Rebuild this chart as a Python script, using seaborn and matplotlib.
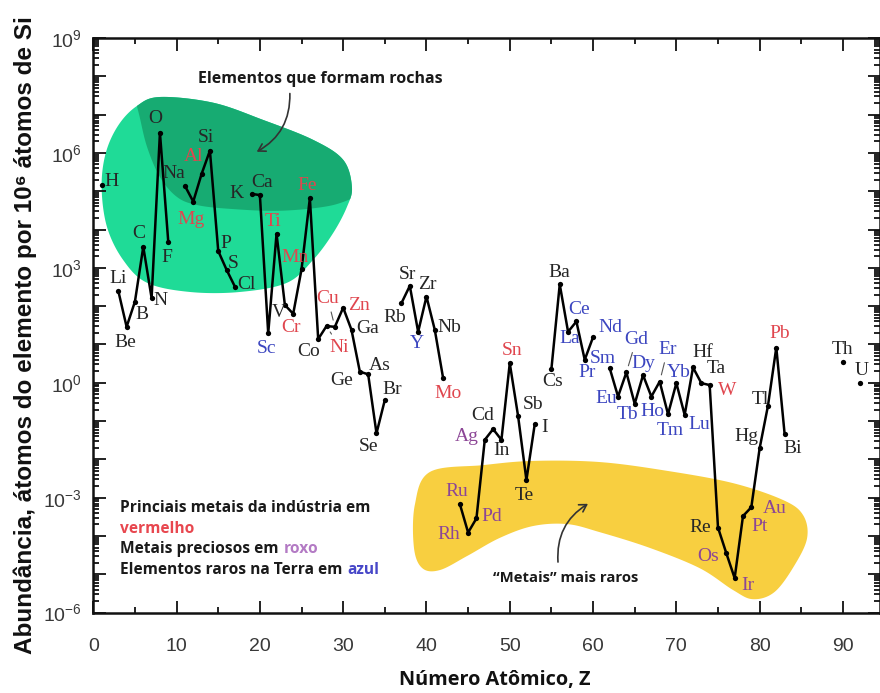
import numpy as np
import pandas as pd
import matplotlib
matplotlib.use("Agg")
import matplotlib.pyplot as plt
import seaborn as sns
from matplotlib.patches import Polygon
from matplotlib.ticker import MultipleLocator, FixedLocator, LogLocator, NullFormatter, FuncFormatter

# ---------------- data ----------------
symbols = ["H", "Li", "Be", "B", "C", "N", "O", "F", "Na", "Mg", "Al", "Si", "P", "S", "Cl",
           "K", "Ca", "Sc", "Ti", "V", "Cr", "Mn", "Fe", "Co", "Ni", "Cu", "Zn", "Ga", "Ge",
           "As", "Se", "Br", "Rb", "Sr", "Y", "Zr", "Nb", "Mo", "Ru", "Rh", "Pd", "Ag", "Cd",
           "In", "Sn", "Sb", "Te", "I", "Cs", "Ba", "La", "Ce", "Pr", "Nd", "Sm", "Eu", "Gd",
           "Tb", "Dy", "Ho", "Er", "Tm", "Yb", "Lu", "Hf", "Ta", "W", "Re", "Os", "Ir", "Pt",
           "Au", "Hg", "Tl", "Pb", "Bi", "Th", "U"]
atomic_number = [1, 3, 4, 5, 6, 7, 8, 9, 11, 12, 13, 14, 15, 16, 17,
                 19, 20, 21, 22, 23, 24, 25, 26, 27, 28, 29, 30, 31, 32,
                 33, 34, 35, 37, 38, 39, 40, 41, 42, 44, 45, 46, 47, 48,
                 49, 50, 51, 52, 53, 55, 56, 57, 58, 59, 60, 62, 63, 64,
                 65, 66, 67, 68, 69, 70, 71, 72, 73, 74, 75, 76, 77, 78,
                 79, 80, 81, 82, 83, 90, 92]
log10_abundance = [5.16, 2.40, 1.46, 2.12, 3.55, 2.21, 6.53, 3.68, 5.14, 4.73, 5.45, 6.06, 3.44, 2.95, 2.51,
                   4.93, 4.90, 1.29, 3.89, 2.03, 1.80, 2.96, 4.82, 1.14, 1.48, 1.46, 1.96, 1.38, 0.29,
                   0.22, -1.32, -0.45, 2.08, 2.53, 1.33, 2.25, 1.38, 0.12, -3.16, -3.91, -3.54, -1.49, -1.21,
                   -1.49, 0.51, -0.87, -2.54, -1.08, 0.36, 2.57, 1.33, 1.60, 0.60, 1.19, 0.38, -0.36, 0.27,
                   -0.55, 0.20, -0.36, 0.03, -0.82, -0.01, -0.84, 0.40, -0.01, -0.06, -3.78, -4.45, -5.10, -3.48,
                   -3.25, -1.71, -0.60, 0.92, -1.34, 0.55, -0.01]
# k = other, r = industrial metal, p = precious metal, b = rare earth
label_group = ["k", "k", "k", "k", "k", "k", "k", "k", "k", "r", "r", "k", "k", "k", "k",
               "k", "k", "b", "r", "k", "r", "r", "r", "k", "r", "r", "r", "k", "k",
               "k", "k", "k", "k", "k", "b", "k", "k", "r", "p", "p", "p", "p", "k",
               "k", "r", "k", "k", "k", "k", "k", "b", "b", "b", "b", "b", "b", "b",
               "b", "b", "b", "b", "b", "b", "b", "k", "k", "r", "k", "p", "p", "p",
               "p", "k", "k", "r", "k", "k", "k"]

y_tick_exponents = [-6, -3, 0, 3, 6, 9]
x_tick_values = [0, 10, 20, 30, 40, 50, 60, 70, 80, 90]

# ---------------- styling / positions (not data) ----------------
label_offsets_px = {
    "H": (10, 4), "Li": (0, 12), "Be": (-1, -16), "B": (7, -13), "C": (-5, 13), "N": (9, -2),
    "O": (-5, 14), "F": (-1, -16), "Na": (-11, 12), "Mg": (-2, -18), "Al": (-8, 17), "Si": (-4, 13),
    "P": (8, 7), "S": (7, 6), "Cl": (12, 2), "K": (-15, 0), "Ca": (2, 13), "Sc": (-2, -15),
    "Ti": (-4, 12), "V": (-6, -8), "Cr": (-2, -14), "Mn": (-7, 12), "Fe": (-3, 13), "Co": (-10, -12),
    "Ni": (13, -21), "Cu": (-7, 28), "Zn": (16, 2), "Ga": (16, 1), "Ge": (-18, -9), "As": (12, 9),
    "Se": (-8, -13), "Br": (7, 10), "Rb": (-7, -14), "Sr": (-2, 11), "Y": (-1, -12), "Zr": (1, 12),
    "Nb": (15, 2), "Mo": (5, -15), "Ru": (-3, 12), "Rh": (-19, -2), "Pd": (15, 2), "Ag": (-18, 3),
    "Cd": (-10, 14), "In": (0, -11), "Sn": (2, 13), "Sb": (15, 12), "Te": (-2, -15), "I": (10, -3),
    "Cs": (1, -13), "Ba": (0, 12), "La": (2, -7), "Ce": (3, 12), "Pr": (2, -13), "Nd": (17, 10),
    "Sm": (-7, 10), "Eu": (-12, -2), "Gd": (10, 33), "Tb": (-7, -11), "Dy": (0, 12), "Ho": (1, -15),
    "Er": (8, 32), "Tm": (2, -16), "Yb": (2, 11), "Lu": (15, -10), "Hf": (10, 15), "Ta": (15, 15),
    "W": (18, -5), "Re": (-18, 0), "Os": (-18, -3), "Ir": (13, -7), "Pt": (17, -10), "Au": (23, -1),
    "Hg": (-13, 12), "Tl": (-8, 6), "Pb": (3, 14), "Bi": (8, -14), "Th": (0, 12), "U": (2, 13),
}
leader_labels = {"Cu", "Ni", "Gd", "Er"}
group_colors = {"k": "#262626", "r": "#e0464e", "p": "#8c4696", "b": "#3c46c0"}

# decorative regions (Z, log10 abundance)
green_outline = [(8.0, 7.46), (14.4, 7.31), (20.4, 6.86), (26.4, 6.34), (30.0, 5.82), (31.05, 5.11),
                 (30.45, 4.59), (28.8, 3.91), (26.4, 3.21), (23.25, 2.61), (17.6, 2.37), (11.6, 2.37),
                 (6.45, 2.61), (3.57, 3.21), (1.64, 4.07), (1.0, 5.11), (1.5, 6.0), (3.0, 6.72), (5.2, 7.22)]
dark_boundary = [(4.9, 7.5), (5.5, 7.0), (6.45, 6.16), (8.0, 5.37), (10.05, 4.85), (12.45, 4.64), (16.4, 4.54),
                 (22.4, 4.49), (28.4, 4.62), (32.0, 4.9)]
yellow_outline = [(40.4, -2.33), (46.8, -2.15), (52.8, -2.04), (60.8, -2.07), (68.9, -2.30), (76.8, -2.62),
                  (82.8, -3.06), (85.2, -3.45), (85.7, -4.05), (84.2, -4.76), (81.8, -5.46), (79.2, -5.65),
                  (76.8, -5.41), (72.8, -4.84), (66.8, -4.31), (60.8, -3.90), (56.9, -3.69), (52.8, -3.74),
                  (48.8, -4.05), (44.9, -4.52), (41.6, -4.89), (39.5, -4.84), (38.5, -4.31), (38.6, -3.19)]


def catmull(pts, n=24, closed=True):
    P = np.asarray(pts, float)
    N = len(P)
    out = []
    rng = range(N) if closed else range(N - 1)
    for i in rng:
        p0 = P[i - 1] if (closed or i > 0) else P[0]
        p1 = P[i]
        p2 = P[(i + 1) % N]
        p3 = P[(i + 2) % N] if (closed or i + 2 < N) else P[-1]
        t = np.linspace(0, 1, n, endpoint=False)[:, None]
        out.append(0.5 * ((2 * p1) + (-p0 + p2) * t + (2 * p0 - 5 * p1 + 4 * p2 - p3) * t ** 2
                          + (-p0 + 3 * p1 - 3 * p2 + p3) * t ** 3))
    if not closed:
        out.append(P[-1:])
    return np.vstack(out)


def to_data(arr):
    a = np.array(arr, float)
    a[:, 1] = 10.0 ** a[:, 1]
    return a


# ---------------- figure ----------------
sns.set_style("ticks")
plt.rcParams["font.family"] = ["Liberation Sans", "DejaVu Sans"]
plt.rcParams["mathtext.fontset"] = "custom"
plt.rcParams["mathtext.rm"] = "Liberation Sans"

fig = plt.figure(figsize=(8.8, 6.93), dpi=100)
ax = fig.add_axes([93.3 / 880, 1 - 612.6 / 693, (880 - 93.3) / 880, (612.6 - 38.0) / 693])
ax.set_yscale("log")
ax.set_xlim(0, 94.45)
ax.set_ylim(1e-6, 1e9)

df = pd.DataFrame({"Z": atomic_number, "A": 10.0 ** np.array(log10_abundance), "sym": symbols,
                   "grp": label_group})
df["seg"] = np.concatenate([[0], np.cumsum(np.diff(df["Z"].values) != 1)])

# regions
green = Polygon(to_data(catmull(green_outline)), closed=True, facecolor="#1fdb97", edgecolor="none", zorder=0.5)
ax.add_patch(green)
dark_pts = catmull(dark_boundary, closed=False)
dark_poly = np.vstack([[(4.5, 8.9)], dark_pts, [(34.0, 5.0), (34.0, 8.9)]])
dark = Polygon(to_data(dark_poly), closed=True, facecolor="#17ab72", edgecolor="none", zorder=0.6)
ax.add_patch(dark)
dark.set_clip_path(green)
yellow = Polygon(to_data(catmull(yellow_outline)), closed=True, facecolor="#f8cf40", edgecolor="none", zorder=0.5)
ax.add_patch(yellow)

sns.lineplot(data=df, x="Z", y="A", units="seg", estimator=None, sort=False, color="black",
             linewidth=1.8, marker="o", markersize=3.8, markeredgewidth=0, ax=ax, zorder=2, legend=False)

for _, r in df.iterrows():
    dx, dy = label_offsets_px[r["sym"]]
    kw = {}
    if r["sym"] in leader_labels:
        kw["arrowprops"] = dict(arrowstyle="-", color="#555555", lw=0.8, shrinkA=1, shrinkB=5)
    ax.annotate(r["sym"], xy=(r["Z"], r["A"]), xytext=(dx, dy), textcoords="offset pixels",
                ha="center", va="center", fontsize=14, family="Liberation Serif",
                color=group_colors[r["grp"]], zorder=3, **kw)

# annotations
ann_font = ["Open Sans", "DejaVu Sans"]
ax.text(27.25, 10 ** 7.93, "Elementos que formam rochas", ha="center", va="center", fontsize=11.5,
        fontweight="bold", family=ann_font, color="#1a1a1a")
ax.annotate("", xy=(19.62, 10 ** 6.03), xytext=(23.6, 10 ** 7.55),
            arrowprops=dict(arrowstyle="->,head_length=0.5,head_width=0.3", color="#333333", lw=1.2,
                            connectionstyle="arc3,rad=-0.3", shrinkA=0, shrinkB=0))
ax.text(56.75, 10 ** -5.10, "\u201cMetais\u201d mais raros", ha="center", va="center", fontsize=10.7,
        fontweight="bold", family=ann_font, color="#1a1a1a")
ax.annotate("", xy=(59.39, 10 ** -3.16), xytext=(55.79, 10 ** -4.68),
            arrowprops=dict(arrowstyle="->,head_length=0.5,head_width=0.3", color="#333333", lw=1.2,
                            connectionstyle="arc3,rad=-0.3", shrinkA=0, shrinkB=0))

leg_fs = 11.2
leg_kw = dict(fontsize=leg_fs, fontweight="bold", family=ann_font, transform=ax.transAxes,
              ha="left", va="center")
ax.text(0.034, 0.182, "Princiais metais da indústria em", color="#1a1a1a", **leg_kw)
ax.text(0.034, 0.146, "vermelho", color="#e8474f", **leg_kw)
t3 = ax.text(0.034, 0.110, "Metais preciosos em", color="#1a1a1a", **leg_kw)
t4 = ax.text(0.034, 0.074, "Elementos raros na Terra em", color="#1a1a1a", **leg_kw)
for base, word, col in [(t3, "roxo", "#b37ac4"), (t4, "azul", "#4747c8")]:
    ax.annotate(word, xy=(1, 0), xycoords=base, xytext=(3.6, 0), textcoords="offset points",
                ha="left", va="bottom", fontsize=leg_fs, fontweight="bold", family=ann_font, color=col)

# axes styling
ax.xaxis.set_major_locator(FixedLocator(x_tick_values))
ax.xaxis.set_minor_locator(MultipleLocator(5))
ax.yaxis.set_major_locator(LogLocator(base=10, numticks=20))
ax.yaxis.set_minor_locator(LogLocator(base=10, subs=np.arange(2, 10), numticks=200))
ax.yaxis.set_minor_formatter(NullFormatter())
ax.yaxis.set_major_formatter(FuncFormatter(
    lambda v, p: (r"$\mathregular{10^{%d}}$" % round(np.log10(v)))
    if round(np.log10(v)) in y_tick_exponents else ""))
ax.tick_params(which="both", direction="in", top=True, right=True, colors="#111111",
               labelcolor="#383838", labelsize=14, width=1.3)
ax.tick_params(which="major", length=9)
ax.tick_params(which="minor", length=4.5)
ax.tick_params(axis="x", which="major", pad=18)
ax.tick_params(axis="y", which="major", pad=8)
for s in ax.spines.values():
    s.set_linewidth(1.8)
    s.set_color("#111111")
    s.set_visible(True)

ax.set_xlabel("Número Atômico, Z", fontsize=14.3, fontweight="bold", family=ann_font, color="#111111")
ax.xaxis.set_label_coords(0.51, -0.1)
ax.set_ylabel("Abundância, átomos do elemento por 10\u2076 átomos de Si", fontsize=17.5,
              fontweight="bold", family=["Liberation Sans", "DejaVu Sans"], color="#111111")
ax.yaxis.set_label_coords(-0.072, 0.483)

fig.savefig("out.png", dpi=100)
